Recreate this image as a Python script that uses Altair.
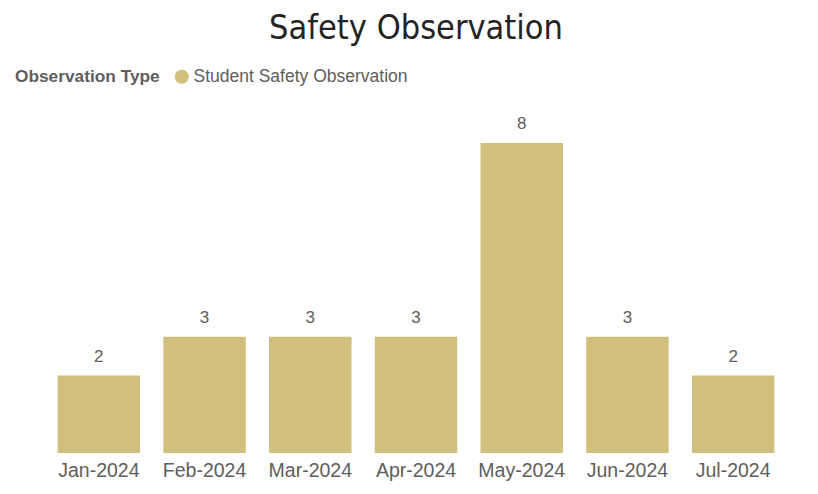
import altair as alt
import pandas as pd

months = ["Jan-2024", "Feb-2024", "Mar-2024", "Apr-2024", "May-2024", "Jun-2024", "Jul-2024"]
counts = [2, 3, 3, 3, 8, 3, 2]
obs_type = ["Student Safety Observation"] * 7

df = pd.DataFrame({"Month": months, "Count": counts, "Observation Type": obs_type})

base = alt.Chart(df).encode(
    x=alt.X("Month:N", sort=months,
            scale=alt.Scale(paddingInner=0.22, paddingOuter=0.11),
            axis=alt.Axis(title=None, labelAngle=0, domain=False, ticks=False,
                          labelFontSize=19.5, labelColor="#605E5C",
                          labelFont="Liberation Sans", labelPadding=8)),
    y=alt.Y("Count:Q", scale=alt.Scale(domain=[0, 8], nice=False),
            axis=None),
)

bars = base.mark_bar(color="#D1BF7D").encode(
    color=alt.Color("Observation Type:N",
                    scale=alt.Scale(range=["#D1BF7D"]),
                    legend=alt.Legend(orient="none", legendX=-31, legendY=-75,
                                      direction="horizontal", titleOrient="left",
                                      titleFontSize=17.3, titleFont="Liberation Sans",
                                      titleFontWeight="bold", titleColor="#605E5C",
                                      labelFontSize=17.5, labelFont="Liberation Sans",
                                      labelColor="#605E5C", symbolType="circle",
                                      symbolSize=200, titlePadding=13,
                                      labelOffset=3, symbolOpacity=1, labelLimit=400,
                                      titleLimit=400,
                                      titleBaseline="middle", titleAnchor="middle"))
)

labels = base.mark_text(baseline="bottom", dy=-10, fontSize=17,
                        font="Liberation Sans", color="#605E5C").encode(
    text="Count:Q")

chart = (bars + labels).properties(
    width=740, height=310,
    title=alt.TitleParams("Safety Observation", fontSize=34, font="DejaVu Sans Condensed",
                          fontWeight="normal", color="#252423", anchor="middle",
                          offset=22),
    autosize=alt.AutoSizeParams(type="none"),
    padding={"left": 38, "top": 135, "right": 24, "bottom": 40},
).configure_view(stroke=None).configure_legend(symbolStrokeWidth=0)

chart.save("out.html", embed_options={"renderer": "svg", "actions": False})
